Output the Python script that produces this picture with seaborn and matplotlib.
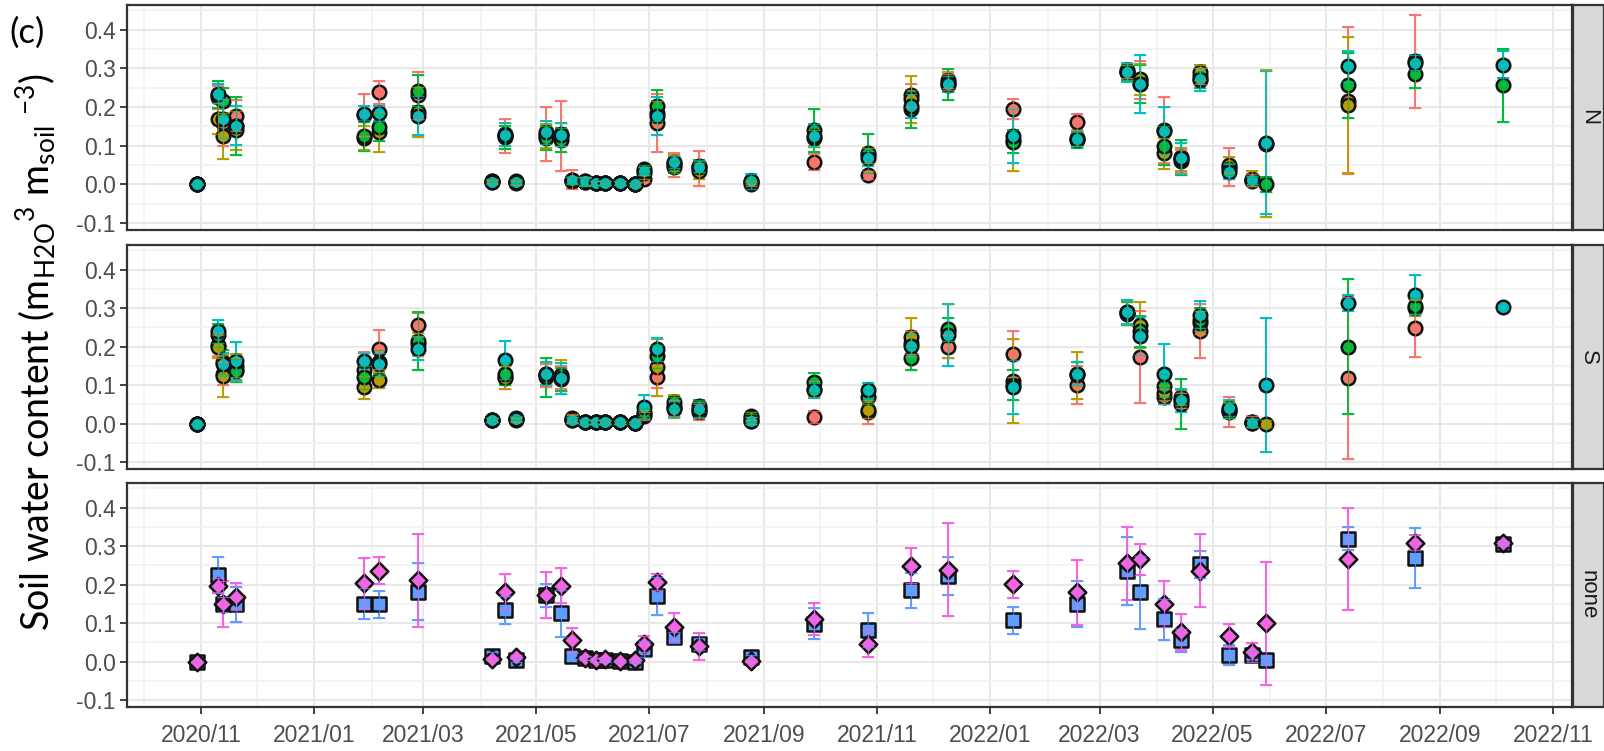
import numpy as np
import pandas as pd
import matplotlib
matplotlib.use("Agg")
import matplotlib.pyplot as plt
import matplotlib.dates as mdates
import matplotlib.ticker as mticker
import seaborn as sns

nan = np.nan

# Sampling dates (shared by all panels)
dates = ["2020-10-30", "2020-11-10", "2020-11-13", "2020-11-20", "2021-01-28", "2021-02-05",
         "2021-02-26", "2021-04-07", "2021-04-14", "2021-04-20", "2021-05-06", "2021-05-14",
         "2021-05-20", "2021-05-27", "2021-06-02", "2021-06-07", "2021-06-15", "2021-06-23",
         "2021-06-28", "2021-07-05", "2021-07-14", "2021-07-28", "2021-08-25", "2021-09-28",
         "2021-10-27", "2021-11-19", "2021-12-09", "2022-01-13", "2022-02-17", "2022-03-16",
         "2022-03-23", "2022-04-05", "2022-04-14", "2022-04-24", "2022-05-10", "2022-05-22",
         "2022-05-30", "2022-07-13", "2022-08-18", "2022-10-05"]

series_names = ["s1", "s2", "s3", "s4"]

# ---- N panel: means ----
n_s1 = [0.0, 0.225, 0.160, 0.178, 0.180, 0.238, 0.230, 0.008, 0.125, 0.006, 0.130, 0.125, 0.012, 0.008,
        0.003, 0.003, 0.003, 0.000, 0.015, 0.160, 0.050, 0.042, 0.002, 0.058, 0.024, 0.230, 0.270, 0.195,
        0.161, 0.295, 0.270, 0.140, 0.060, 0.280, 0.045, 0.011, nan, 0.216, 0.318, nan]
n_s2 = [0.0, 0.170, 0.125, 0.140, 0.120, 0.135, 0.187, 0.005, 0.130, 0.004, 0.125, 0.130, 0.010, 0.006,
        0.003, 0.003, 0.003, 0.000, 0.030, 0.185, 0.055, 0.035, 0.005, 0.120, 0.075, 0.220, 0.265, 0.115,
        0.120, 0.290, 0.272, 0.080, 0.065, 0.290, 0.050, 0.015, 0.105, 0.205, nan, nan]
n_s3 = [0.0, 0.232, 0.215, 0.150, 0.126, 0.148, 0.242, 0.010, 0.122, 0.008, 0.120, 0.115, 0.010, 0.007,
        0.003, 0.003, 0.003, 0.000, 0.040, 0.203, 0.045, 0.048, 0.010, 0.140, 0.080, 0.195, 0.258, 0.110,
        0.115, 0.290, 0.260, 0.100, 0.070, 0.270, 0.040, 0.010, 0.000, 0.256, 0.285, 0.256]
n_s4 = [0.0, 0.235, 0.170, 0.152, 0.182, 0.184, 0.178, 0.006, 0.128, 0.005, 0.135, 0.128, 0.011, 0.008,
        0.003, 0.003, 0.003, 0.000, 0.035, 0.177, 0.058, 0.046, 0.008, 0.126, 0.067, 0.203, 0.260, 0.126,
        0.118, 0.290, 0.259, 0.139, 0.067, 0.272, 0.033, 0.011, 0.108, 0.306, 0.315, 0.310]
# ---- N panel: error half-widths ----
n_s1_err = [0.0, 0.030, 0.060, 0.040, 0.055, 0.030, 0.060, 0.005, 0.045, 0.005, 0.070, 0.090, 0.025, 0.010,
            0.005, 0.005, 0.005, 0.003, 0.010, 0.075, 0.030, 0.045, 0.005, 0.020, 0.010, 0.030, 0.020, 0.025,
            0.020, 0.020, 0.050, 0.085, 0.030, 0.020, 0.050, 0.015, nan, 0.190, 0.120, nan]
n_s2_err = [0.0, 0.040, 0.060, 0.050, 0.030, 0.050, 0.065, 0.005, 0.030, 0.005, 0.030, 0.030, 0.010, 0.010,
            0.005, 0.005, 0.005, 0.003, 0.015, 0.030, 0.020, 0.020, 0.005, 0.020, 0.020, 0.060, 0.020, 0.080,
            0.020, 0.020, 0.040, 0.040, 0.030, 0.020, 0.020, 0.020, 0.190, 0.175, nan, nan]
n_s3_err = [0.0, 0.035, 0.035, 0.075, 0.040, 0.035, 0.040, 0.005, 0.030, 0.005, 0.030, 0.030, 0.008, 0.010,
            0.005, 0.005, 0.005, 0.003, 0.010, 0.040, 0.015, 0.015, 0.005, 0.055, 0.050, 0.050, 0.040, 0.030,
            0.020, 0.020, 0.050, 0.050, 0.045, 0.020, 0.015, 0.010, 0.020, 0.085, 0.035, 0.095]
n_s4_err = [0.0, 0.025, 0.050, 0.050, 0.020, 0.020, 0.050, 0.005, 0.030, 0.005, 0.030, 0.030, 0.008, 0.010,
            0.005, 0.005, 0.005, 0.003, 0.010, 0.050, 0.015, 0.015, 0.020, 0.030, 0.020, 0.030, 0.020, 0.070,
            0.020, 0.025, 0.075, 0.060, 0.040, 0.030, 0.020, 0.010, 0.185, 0.040, 0.020, 0.035]

# ---- S panel: means ----
s_s1 = [0.0, 0.205, 0.130, 0.140, 0.140, 0.193, 0.257, 0.010, 0.120, 0.012, 0.125, 0.120, 0.015, 0.005,
        0.004, 0.004, 0.003, 0.002, 0.020, 0.122, 0.040, 0.030, 0.008, 0.017, 0.030, 0.210, 0.200, 0.180,
        0.100, 0.285, 0.173, 0.070, 0.060, 0.240, 0.030, 0.005, nan, 0.118, 0.249, nan]
s_s2 = [0.0, 0.200, 0.124, 0.150, 0.094, 0.113, 0.206, 0.010, 0.119, 0.010, 0.130, 0.125, 0.012, 0.005,
        0.004, 0.004, 0.003, 0.002, 0.025, 0.146, 0.045, 0.035, 0.020, 0.090, 0.035, 0.225, 0.240, 0.111,
        0.125, 0.290, 0.257, 0.080, 0.068, 0.262, 0.035, 0.002, 0.000, nan, 0.300, nan]
s_s3 = [0.0, 0.230, 0.160, 0.137, 0.120, 0.160, 0.215, 0.010, 0.130, 0.015, 0.120, 0.115, 0.010, 0.005,
        0.004, 0.004, 0.003, 0.002, 0.030, 0.175, 0.055, 0.045, 0.015, 0.107, 0.070, 0.170, 0.245, 0.100,
        0.130, 0.287, 0.240, 0.098, 0.052, 0.270, 0.034, 0.003, nan, 0.200, 0.305, nan]
s_s4 = [0.0, 0.240, 0.154, 0.163, 0.163, 0.154, 0.195, 0.010, 0.165, 0.012, 0.130, 0.118, 0.010, 0.005,
        0.004, 0.004, 0.003, 0.002, 0.043, 0.193, 0.038, 0.037, 0.008, 0.086, 0.086, 0.202, 0.230, 0.094,
        0.129, 0.290, 0.227, 0.129, 0.060, 0.283, 0.040, 0.001, 0.100, 0.313, 0.335, 0.302]
# ---- S panel: error half-widths ----
s_s1_err = [0.0, 0.030, 0.030, 0.030, 0.045, 0.050, 0.030, 0.005, 0.030, 0.005, 0.030, 0.030, 0.010, 0.005,
            0.005, 0.005, 0.005, 0.003, 0.010, 0.030, 0.020, 0.020, 0.010, 0.015, 0.030, 0.030, 0.030, 0.060,
            0.050, 0.030, 0.120, 0.020, 0.020, 0.070, 0.040, 0.015, nan, 0.210, 0.075, nan]
s_s2_err = [0.0, 0.030, 0.055, 0.030, 0.030, 0.020, 0.030, 0.005, 0.030, 0.005, 0.030, 0.040, 0.010, 0.005,
            0.005, 0.005, 0.005, 0.003, 0.010, 0.075, 0.030, 0.020, 0.010, 0.020, 0.020, 0.050, 0.070, 0.110,
            0.060, 0.030, 0.060, 0.020, 0.020, 0.030, 0.020, 0.010, 0.010, nan, 0.020, nan]
s_s3_err = [0.0, 0.030, 0.030, 0.030, 0.030, 0.030, 0.075, 0.005, 0.030, 0.005, 0.050, 0.030, 0.008, 0.005,
            0.005, 0.005, 0.005, 0.003, 0.010, 0.030, 0.015, 0.015, 0.010, 0.025, 0.020, 0.030, 0.030, 0.040,
            0.030, 0.030, 0.040, 0.030, 0.065, 0.030, 0.020, 0.010, nan, 0.175, 0.020, nan]
s_s4_err = [0.0, 0.030, 0.030, 0.050, 0.020, 0.030, 0.030, 0.005, 0.050, 0.005, 0.030, 0.040, 0.008, 0.005,
            0.005, 0.005, 0.005, 0.003, 0.030, 0.030, 0.020, 0.020, 0.010, 0.020, 0.020, 0.030, 0.080, 0.070,
            0.030, 0.030, 0.050, 0.077, 0.030, 0.035, 0.020, 0.010, 0.175, 0.020, 0.050, 0.005]

# ---- none panel: means and error half-widths ----
none_s5 = [0.0, 0.226, 0.149, 0.149, 0.150, 0.149, 0.182, 0.014, 0.134, 0.005, 0.172, 0.125, 0.014, 0.010,
           0.005, 0.005, 0.002, 0.000, 0.033, 0.171, 0.063, 0.045, 0.012, 0.098, 0.082, 0.185, 0.222, 0.107,
           0.149, 0.236, 0.180, 0.110, 0.055, 0.253, 0.017, 0.017, 0.003, 0.319, 0.270, 0.305]
none_s6 = [0.0, 0.197, 0.149, 0.169, 0.205, 0.236, 0.211, 0.008, 0.182, 0.012, 0.172, 0.197, 0.056, 0.010,
           0.005, 0.006, 0.002, 0.003, 0.046, 0.207, 0.091, 0.040, 0.002, 0.111, 0.046, 0.249, 0.239, 0.201,
           0.180, 0.255, 0.266, 0.149, 0.076, 0.236, 0.067, 0.024, 0.100, 0.266, 0.309, 0.309]
none_s5_err = [0.0, 0.045, 0.020, 0.045, 0.040, 0.035, 0.075, 0.010, 0.037, 0.005, 0.030, 0.060, 0.008, 0.005,
               0.005, 0.005, 0.003, 0.003, 0.020, 0.050, 0.015, 0.015, 0.005, 0.040, 0.045, 0.045, 0.050, 0.035,
               0.060, 0.088, 0.095, 0.053, 0.030, 0.035, 0.027, 0.010, 0.010, 0.030, 0.078, 0.005]
none_s6_err = [0.0, 0.020, 0.060, 0.035, 0.065, 0.035, 0.120, 0.005, 0.045, 0.005, 0.060, 0.045, 0.030, 0.005,
               0.005, 0.005, 0.003, 0.003, 0.020, 0.020, 0.035, 0.035, 0.003, 0.042, 0.035, 0.045, 0.120, 0.035,
               0.085, 0.095, 0.040, 0.060, 0.047, 0.095, 0.030, 0.025, 0.160, 0.132, 0.020, 0.005]

panel_labels = ["N", "S", "none"]
y_ticks = [-0.1, 0.0, 0.1, 0.2, 0.3, 0.4]
x_tick_start, x_tick_end = "2020-11-01", "2022-11-01"

colors = {"s1": "#F8766D", "s2": "#B79F00", "s3": "#00BA38", "s4": "#00BFC4",
          "s5": "#619CFF", "s6": "#F564E3"}
markers = {"s1": "o", "s2": "o", "s3": "o", "s4": "o", "s5": "s", "s6": "D"}
sizes = {"o": 95, "s": 90, "D": 80}


def long_frame(vals, errs, names):
    rows = []
    for name, v, e in zip(names, vals, errs):
        for d, vv, ee in zip(dates, v, e):
            rows.append({"date": pd.Timestamp(d), "value": vv, "err": ee, "series": name})
    return pd.DataFrame(rows).dropna(subset=["value"])


panels = [
    long_frame([n_s1, n_s2, n_s3, n_s4], [n_s1_err, n_s2_err, n_s3_err, n_s4_err], series_names),
    long_frame([s_s1, s_s2, s_s3, s_s4], [s_s1_err, s_s2_err, s_s3_err, s_s4_err], series_names),
    long_frame([none_s5, none_s6], [none_s5_err, none_s6_err], ["s5", "s6"]),
]

sns.set_theme(style="white")
plt.rcParams["font.family"] = ["Liberation Sans", "DejaVu Sans"]
plt.rcParams["mathtext.fontset"] = "custom"
plt.rcParams["mathtext.rm"] = "Lato"
plt.rcParams["mathtext.it"] = "Lato:italic"
plt.rcParams["mathtext.default"] = "regular"

W, H = 1604, 751
fig = plt.figure(figsize=(W / 100, H / 100), dpi=100)

left_px, right_px = 127, 1572
panel_px = [(5, 230), (245, 469), (483, 707)]
grey_text = "#4D4D4D"
frame_col = "#333333"

x_lo, x_hi = pd.Timestamp("2020-09-22"), pd.Timestamp("2022-11-11")
major_locs = pd.date_range(x_tick_start, x_tick_end, freq="2MS")
minor_locs = pd.date_range("2020-10-01", "2022-11-01", freq="MS")

for i, (df, (top, bot), lab) in enumerate(zip(panels, panel_px, panel_labels)):
    ax = fig.add_axes([left_px / W, 1 - bot / H, (right_px - left_px) / W, (bot - top) / H])
    ax.set_facecolor("white")

    names = list(dict.fromkeys(df["series"]))
    # error bars
    for name in names:
        sub = df[df["series"] == name]
        ax.errorbar(sub["date"], sub["value"], yerr=sub["err"].fillna(0), fmt="none",
                    ecolor=colors[name], elinewidth=1.4, capsize=4.2, capthick=1.4, zorder=3)
    # points
    for name in names:
        sub = df[df["series"] == name]
        sns.scatterplot(data=sub, x="date", y="value", color=colors[name], marker=markers[name],
                        s=sizes[markers[name]], edgecolor="#111111", linewidth=1.8,
                        legend=False, ax=ax, zorder=4)
    # error bars drawn again thinly on top of markers
    for name in names:
        sub = df[df["series"] == name]
        ax.errorbar(sub["date"], sub["value"], yerr=sub["err"].fillna(0), fmt="none",
                    ecolor=colors[name], elinewidth=0.9, capsize=4.2, capthick=1.0,
                    alpha=0.7, zorder=5)

    ax.set_xlim(x_lo, x_hi)
    ax.set_ylim(-0.118, 0.464)
    ax.set_yticks(y_ticks)
    ax.set_yticklabels([f"{t:.1f}" for t in y_ticks])
    ax.yaxis.set_minor_locator(mticker.FixedLocator(np.arange(-0.05, 0.46, 0.1)))
    ax.set_xticks(major_locs)
    ax.xaxis.set_minor_locator(mticker.FixedLocator(mdates.date2num(minor_locs)))
    ax.xaxis.set_major_formatter(mdates.DateFormatter("%Y/%m"))
    ax.grid(True, which="major", color="#E8E8E8", linewidth=1.5, zorder=0)
    ax.grid(True, which="minor", color="#F1F1F1", linewidth=1.1, zorder=0)
    ax.set_axisbelow(True)
    ax.set_xlabel("")
    ax.set_ylabel("")
    ax.tick_params(axis="both", which="major", length=5, width=1.3, color=frame_col,
                   labelsize=16.5, labelcolor=grey_text, pad=3, left=True, bottom=True)
    ax.tick_params(axis="both", which="minor", length=0)
    ax.tick_params(axis="x", pad=7)
    if i < 2:
        ax.tick_params(axis="x", labelbottom=False, length=0)
    for sp in ax.spines.values():
        sp.set_color(frame_col)
        sp.set_linewidth(1.6)
        sp.set_visible(True)

    # facet strip on the right
    sax = fig.add_axes([(right_px + 1) / W, 1 - bot / H, (W - right_px - 1) / W, (bot - top) / H])
    sax.set_facecolor("#D9D9D9")
    sax.set_xticks([])
    sax.set_yticks([])
    for sp in sax.spines.values():
        sp.set_color(frame_col)
        sp.set_linewidth(1.6)
    sax.text(0.5, 0.5, lab, rotation=270, ha="center", va="center", fontsize=16,
             color="#1A1A1A", transform=sax.transAxes)

fig.text(36 / W, 1 - 352 / H,
         r"Soil water content (m$_{H2O}$$^{3}$ m$_{soil}$ $^{-3}$)",
         rotation=90, ha="center", va="center", fontsize=27, family=["Lato", "DejaVu Sans"],
         color="black")
fig.text(9 / W, 1 - 33 / H, "(c)", ha="left", va="center", fontsize=25,
         family=["Lato", "DejaVu Sans"], color="black")

fig.savefig("out.png", dpi=100)
